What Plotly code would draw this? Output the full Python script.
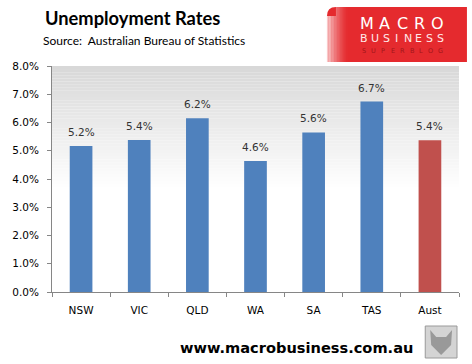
import plotly.graph_objects as go

categories = ["NSW", "VIC", "QLD", "WA", "SA", "TAS", "Aust"]
values = [5.17, 5.38, 6.15, 4.64, 5.65, 6.74, 5.37]
labels = ["5.2%", "5.4%", "6.2%", "4.6%", "5.6%", "6.7%", "5.4%"]
bar_colors = ["#4f81bd"] * 6 + ["#c0504d"]
y_ticks = [0, 1, 2, 3, 4, 5, 6, 7, 8]
y_ticklabels = ["0.0%", "1.0%", "2.0%", "3.0%", "4.0%", "5.0%", "6.0%", "7.0%", "8.0%"]

W, H = 472, 364
L, R, T, B = 49, 13, 66, 72
PW, PH = W - L - R, H - T - B


def X(px):
    return (px - L) / PW


def Y(py):
    return (H - B - py) / PH


fig = go.Figure()
fig.add_trace(go.Bar(
    x=categories, y=values, marker_color=bar_colors, marker_line_width=0,
    width=0.39, hoverinfo="skip",
))

shapes = []
# background gradient in plot area
n = 40
g_start = 0.45
for i in range(n):
    y0 = g_start + (1 - g_start) * i / n
    y1 = g_start + (1 - g_start) * (i + 1) / n
    t = (i + 0.5) / n
    c = int(round(255 - (255 - 216) * t))
    shapes.append(dict(type="rect", xref="paper", yref="paper", x0=0, x1=1, y0=y0, y1=y1,
                       fillcolor=f"rgb({c},{c},{c})", line_width=0, layer="below"))

# logo red box with rounded top-left corner
x0, x1, y0, y1, r = 326, 467, 7, 62, 9
path = (f"M {X(x0)},{Y(y1)} L {X(x0)},{Y(y0 + r)} Q {X(x0)},{Y(y0)} {X(x0 + r)},{Y(y0)} "
        f"L {X(x1)},{Y(y0)} L {X(x1)},{Y(y1)} Z")
shapes.append(dict(type="path", xref="paper", yref="paper", path=path,
                   fillcolor="#e52a2e", line_width=0, layer="above"))
# shine on the left of the logo
ns = 14
for i in range(ns):
    xa = x0 + i * 1.5
    op = 0.75 * (1 - i / ns) ** 1.5
    shapes.append(dict(type="rect", xref="paper", yref="paper", x0=X(xa), x1=X(xa + 1.5),
                       y0=Y(y1), y1=Y(y0 + (r if i < 6 else 0)),
                       fillcolor=f"rgba(255,255,255,{op:.3f})", line_width=0, layer="above"))

# wolf icon box
shapes.append(dict(type="rect", xref="paper", yref="paper", x0=X(425), x1=X(457), y0=Y(358), y1=Y(326),
                   fillcolor="#d4d4d4", line=dict(color="#9a9a9a", width=1), layer="above"))
shapes.append(dict(type="path", xref="paper", yref="paper",
                   path=f"M {X(430)},{Y(330)} L {X(436)},{Y(337)} L {X(446)},{Y(337)} L {X(452)},{Y(330)} "
                        f"L {X(451)},{Y(345)} L {X(441)},{Y(355)} L {X(431)},{Y(345)} Z",
                   fillcolor="#8a8a8a", line_width=0, opacity=0.8, layer="above"))

annotations = []
for c, v, lab in zip(categories, values, labels):
    annotations.append(dict(x=c, y=v, text=lab, showarrow=False, yanchor="bottom", yshift=6,
                            font=dict(family="DejaVu Sans", size=10.5, color="#333333")))

annotations.append(dict(xref="paper", yref="paper", x=X(40), y=Y(18), xanchor="left", yanchor="middle",
                        text="<b>Unemployment Rates</b>", showarrow=False,
                        font=dict(family="Lato", size=18.3, color="#000000")))
annotations.append(dict(xref="paper", yref="paper", x=X(38), y=Y(40), xanchor="left", yanchor="middle",
                        text="Source:  Australian Bureau of Statistics", showarrow=False,
                        font=dict(family="Lato", size=12, color="#000000")))
annotations.append(dict(xref="paper", yref="paper", x=X(295), y=Y(347), xanchor="center", yanchor="middle",
                        text="<b>www.macrobusiness.com.au</b>", showarrow=False,
                        font=dict(family="DejaVu Sans", size=14.6, color="#000000")))


def spaced(word, xl, xr, yc, size, color):
    k = len(word)
    step = (xr - xl) / k
    for i, ch in enumerate(word):
        annotations.append(dict(xref="paper", yref="paper", x=X(xl + step * (i + 0.5)), y=Y(yc),
                                xanchor="center", yanchor="middle", text=ch, showarrow=False,
                                font=dict(family="DejaVu Sans", size=size, color=color)))


spaced("MACRO", 358, 446, 23, 16, "#ffffff")
spaced("BUSINESS", 358, 446, 38, 11, "#ffe8e8")
spaced("SUPERBLOG", 359, 445, 51, 6.5, "#a3161a")

fig.update_layout(
    width=W, height=H,
    margin=dict(l=L, r=R, t=T, b=B, pad=0),
    paper_bgcolor="white", plot_bgcolor="rgba(0,0,0,0)",
    showlegend=False, bargap=0.6,
    shapes=shapes, annotations=annotations,
    xaxis=dict(showline=True, linecolor="#868686", linewidth=1, ticks="outside", tickson="boundaries",
               ticklen=4, tickcolor="#868686", showgrid=False, zeroline=False,
               tickfont=dict(family="DejaVu Sans", size=10.5, color="#000000"), ticklabelstandoff=8,
               fixedrange=True),
    yaxis=dict(range=[0, 8], tickvals=y_ticks, ticktext=y_ticklabels, showline=True, linecolor="#868686",
               linewidth=1, ticks="outside", ticklen=4, tickcolor="#868686", showgrid=False, zeroline=False,
               tickfont=dict(family="DejaVu Sans", size=10.5, color="#000000"), ticklabelstandoff=6,
               fixedrange=True),
)

fig.write_html("out.html")
